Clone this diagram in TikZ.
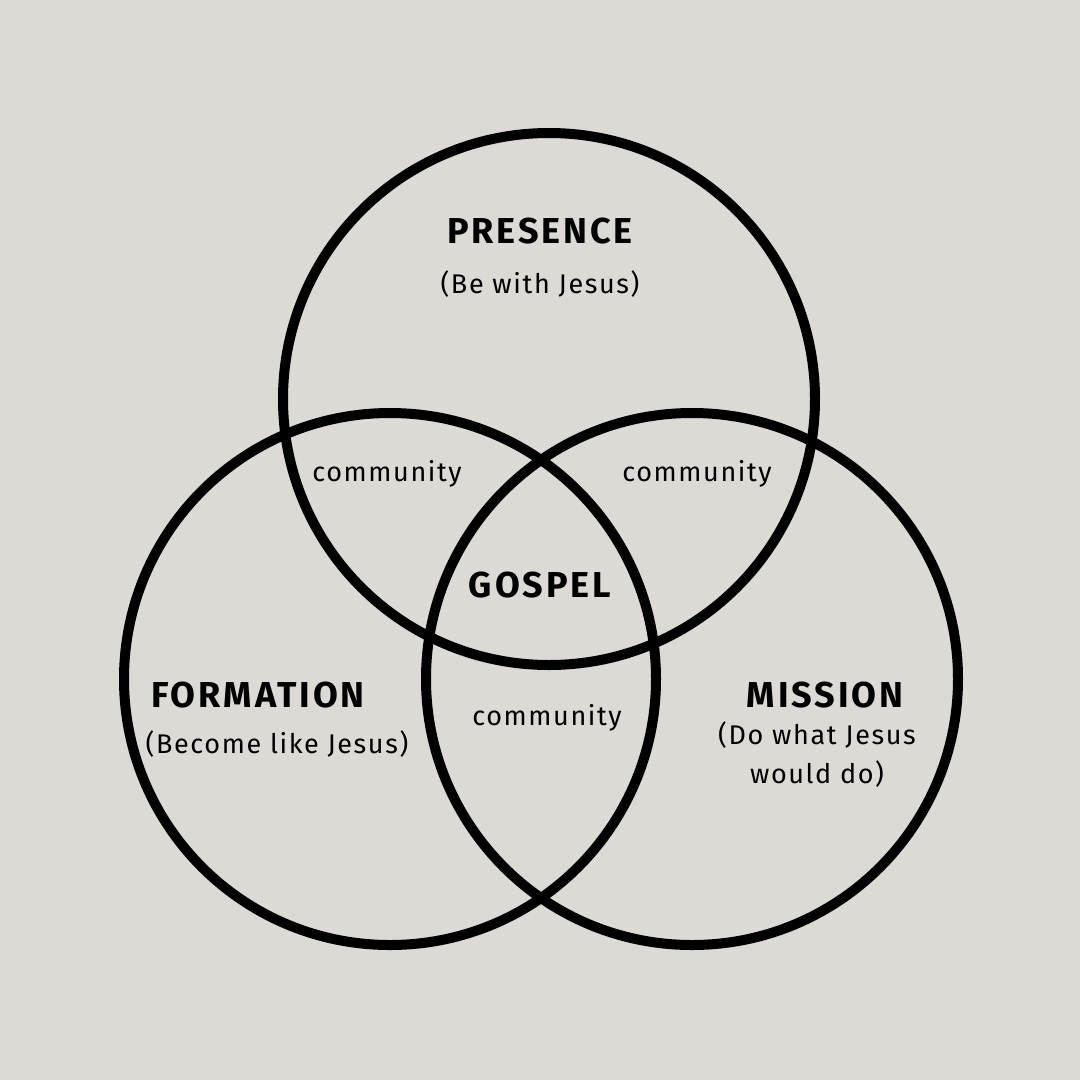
\documentclass[tikz,border=0pt]{standalone}
\usepackage{fontspec}
\setmainfont{Fira Sans}
\newfontfamily\titlefont[LetterSpace=8]{Fira Sans}
\newfontfamily\subfont[LetterSpace=6]{Fira Sans}
\definecolor{bg}{HTML}{DDD9D5}
\begin{document}
\begin{tikzpicture}[x=1pt,y=-1pt,
  ring/.style={draw=black,line width=10pt},
  title/.style={font=\titlefont\fontsize{36}{40}\selectfont\bfseries,inner sep=0pt},
  sub/.style={font=\subfont\fontsize{27}{39}\selectfont,inner sep=0pt,align=center},
]
\fill[bg] (0,0) rectangle (1080,1080);
\useasboundingbox (0,0) rectangle (1080,1080);
\draw[ring] (549,399) circle (266);
\draw[ring] (390,679) circle (266);
\draw[ring] (692,679) circle (266);
\node[title] (presence) at (540,231) {PRESENCE};
\node[sub] (presub) at (540,284) {(Be with Jesus)};
\node[sub] (comL) at (387,474) {community};
\node[sub] (comR) at (697,474) {community};
\node[title] (gospel) at (540,585) {GOSPEL};
\node[title] (formation) at (258,695) {FORMATION};
\node[sub] (formsub) at (277,744) {(Become like Jesus)};
\node[sub] (comB) at (547,718) {community};
\node[title] (mission) at (825,695) {MISSION};
\node[sub] (missub) at (817,755) {(Do what Jesus\\would do)};
\end{tikzpicture}
\end{document}
